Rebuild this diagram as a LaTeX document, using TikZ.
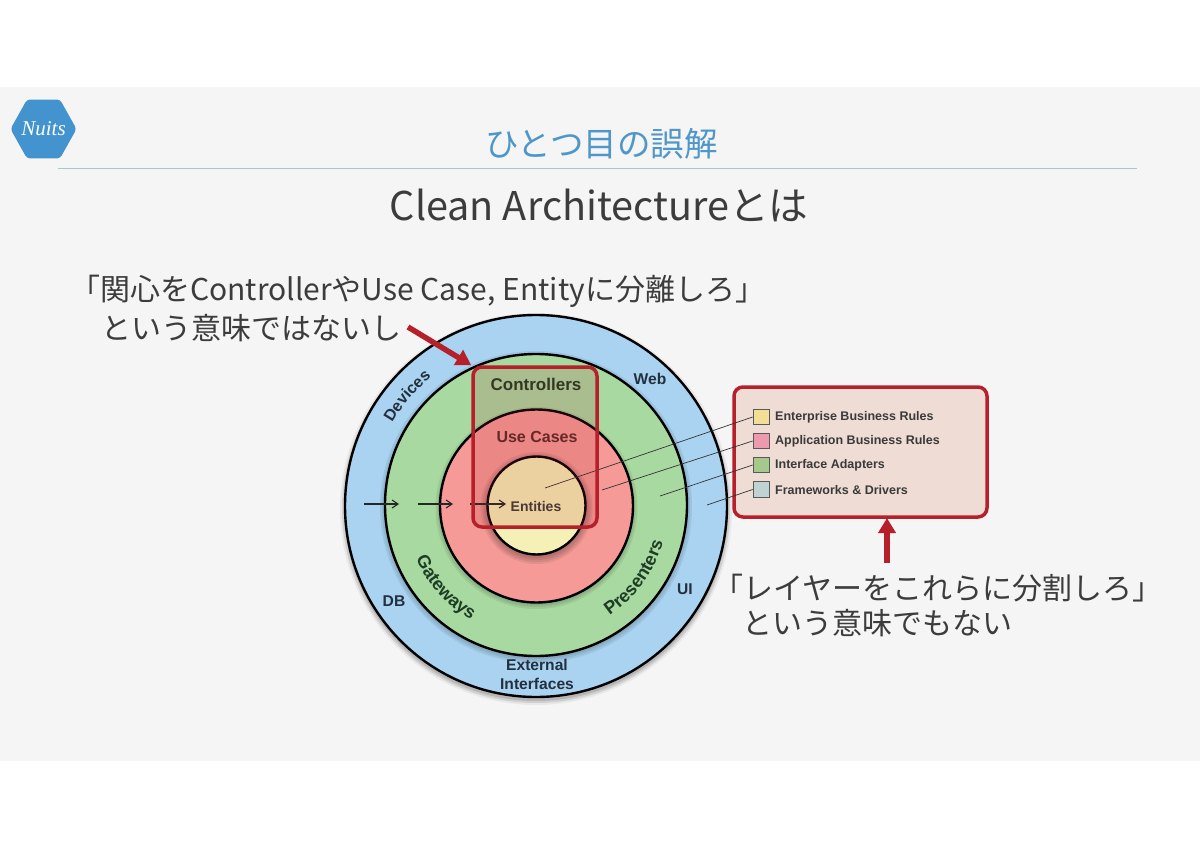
\documentclass[tikz,border=0pt]{standalone}
\usepackage{fontspec}
\setmainfont{Noto Sans CJK JP}
\newfontfamily\diagfont{Liberation Sans}
\newfontfamily\logofont{Liberation Serif}
\usetikzlibrary{arrows.meta,decorations.text,shapes.geometric}
\definecolor{slidebg}{HTML}{F5F5F5}
\definecolor{rulecol}{HTML}{A9C5CF}
\definecolor{titleblue}{HTML}{4F97C9}
\definecolor{bodygray}{HTML}{3C3C3C}
\definecolor{logoblue}{HTML}{4393CF}
\definecolor{ringblue}{HTML}{A9D3F0}
\definecolor{ringgreen}{HTML}{A8D9A0}
\definecolor{ringred}{HTML}{F59A96}
\definecolor{ringyellow}{HTML}{F5F0B5}
\definecolor{boxred}{HTML}{B5202A}
\definecolor{legendfill}{HTML}{EFDCD4}
\definecolor{inkblue}{HTML}{22303F}
\definecolor{inkgreen}{HTML}{1D3D24}
\definecolor{inkred}{HTML}{5A2A2A}
\definecolor{inkgray}{HTML}{3A3A3A}
\definecolor{swA}{HTML}{F3DE96}
\definecolor{swB}{HTML}{EE9AAE}
\definecolor{swC}{HTML}{A5C98A}
\definecolor{swD}{HTML}{BFD3D3}
\tikzset{
  px/.style={x=1pt,y=-1pt},
  ring/.style={circle,draw=black,line width=2.4pt,inner sep=0pt},
  slidetext/.style={inner sep=0pt,anchor=west,text=bodygray,font=\fontsize{30}{34}\selectfont},
  difflabel/.style={inner sep=0pt,font=\diagfont\bfseries\fontsize{15.6}{17}\selectfont},
  swatch/.style={draw=black!65,line width=.7pt,minimum width=16pt,minimum height=15.5pt,inner sep=0pt},
  legendtext/.style={inner sep=0pt,anchor=west,text=inkgray,font=\diagfont\bfseries\fontsize{12.5}{14}\selectfont},
  leader/.style={draw=black!80,line width=.7pt},
  flowarrow/.style={draw=black!85,line width=1.1pt,-{Straight Barb[length=6pt,width=8pt]}},
  redbox/.style={draw=boxred,line width=3.5pt,rounded corners=9pt,inner sep=0pt},
  redarrow/.style={draw=boxred,line width=5.5pt,-{Triangle[length=15pt,width=17pt]}},
  halo/.style={fill=black,fill opacity=.07,draw=none},
}
\begin{document}
\begin{tikzpicture}[px]
\useasboundingbox (0,0) rectangle (1200,848);
\fill[white] (0,0) rectangle (1200,848);
\fill[slidebg] (0,87) rectangle (1200,761);

% logo
\node[regular polygon,regular polygon sides=6,fill=logoblue,draw=logoblue,line width=1pt,rounded corners=3pt,
      minimum size=72pt,inner sep=0pt,xscale=.9,yscale=.93] (logo) at (43.5,129) {};
\node[inner sep=0pt,text=white,font=\logofont\itshape\fontsize{21}{21}\selectfont] (logotext) at (43.5,129) {Nuits};

% header
\node[inner sep=0pt,text=titleblue,font=\fontsize{33.5}{36}\selectfont] (title) at (601.5,143.5) {ひとつ目の誤解};
\coordinate (ruleL) at (58,168);
\coordinate (ruleR) at (1137,168);
\draw[rulecol,line width=.9pt] (ruleL) -- (ruleR);
\node[inner sep=0pt,text=bodygray,font=\fontsize{39.6}{42}\selectfont] (subtitle) at (599,205.5) {Clean Architectureとは};

% notes
\node[slidetext] (noteA1) at (70,291.5) {「関心をControllerやUse Case, Entityに分離しろ」};
\node[slidetext] (noteA2) at (101,328) {という意味ではないし};
\node[slidetext] (noteB1) at (713,588) {「レイヤーをこれらに分割しろ」};
\node[slidetext] (noteB2) at (742,623.5) {という意味でもない};

% shadows and rings
\foreach \r/\o in {196/.05,194/.1,192/.12}{\fill[black,fill opacity=\o] (536,509) circle (\r);}
\node[ring,fill=ringblue,minimum size=382pt] (outer) at (536,506) {};
\foreach \r in {156,154,152}{\path[halo] (536,507) circle (\r);}
\node[ring,fill=ringgreen,minimum size=302pt] (green) at (536,505) {};
\foreach \r in {101,99,97}{\path[halo] (536.5,508) circle (\r);}
\node[ring,fill=ringred,minimum size=193pt] (red) at (536.5,506) {};
\foreach \r in {56,54,52,50}{\path[halo] (536.5,508) circle (\r);}
\node[ring,fill=ringyellow,minimum size=98pt] (yellow) at (536.5,505.5) {};

% ring labels
\node[difflabel,text=inkblue] (web) at (650,379) {Web};
\node[difflabel,text=inkblue] (db) at (394,601) {DB};
\node[difflabel,text=inkblue] (ui) at (685,589) {UI};
\node[difflabel,text=inkblue] (ext1) at (537,665) {External};
\node[difflabel,text=inkblue] (ext2) at (537,684) {Interfaces};
\node[inner sep=0pt,text=inkgreen,font=\diagfont\bfseries\fontsize{17}{18}\selectfont] (controllers) at (536,384) {Controllers};
\node[inner sep=0pt,text=inkred,font=\diagfont\bfseries\fontsize{16}{18}\selectfont] (usecases) at (537,437) {Use Cases};
\node[inner sep=0pt,text=inkgray,font=\diagfont\bfseries\fontsize{14}{15}\selectfont] (entities) at (536,506) {Entities};
\path[postaction={decorate,decoration={text along path,text align=center,
   text={|\diagfont\bfseries\fontsize{16}{17}\selectfont\color{inkblue}|Devices}}}]
   (536,506) ++(206:166) arc[start angle=206,end angle=235,radius=166];
\path[postaction={decorate,decoration={text along path,text align=center,
   text={|\diagfont\bfseries\fontsize{18}{19}\selectfont\color{inkgreen}|Gateways}}}]
   (536,506) ++(159:131) arc[start angle=159,end angle=117,radius=131];
\path[postaction={decorate,decoration={text along path,text align=center,
   text={|\diagfont\bfseries\fontsize{18}{19}\selectfont\color{inkgreen}|Presenters}}}]
   (536,506) ++(64:132) arc[start angle=64,end angle=8,radius=132];

% flow arrows
\coordinate (f1a) at (364,504); \coordinate (f1b) at (399,504);
\coordinate (f2a) at (418,504); \coordinate (f2b) at (453,504);
\coordinate (f3a) at (470,504); \coordinate (f3b) at (506,504);
\draw[flowarrow] (f1a) -- (f1b);
\draw[flowarrow] (f2a) -- (f2b);
\draw[flowarrow] (f3a) -- (f3b);

% legend
\node[redbox,fill=legendfill,minimum width=253pt,minimum height=130pt] (legend) at (860.5,452) {};
\node[swatch,fill=swA] (s1) at (761,417) {};
\node[swatch,fill=swB] (s2) at (761,441) {};
\node[swatch,fill=swC] (s3) at (761,465) {};
\node[swatch,fill=swD] (s4) at (761,489.5) {};
\node[legendtext] (t1) at (775,417.5) {Enterprise Business Rules};
\node[legendtext] (t2) at (775,441.5) {Application Business Rules};
\node[legendtext] (t3) at (775,465.5) {Interface Adapters};
\node[legendtext] (t4) at (775,490) {Frameworks \& Drivers};
\coordinate (l1) at (545,488);
\coordinate (l2) at (602,490);
\coordinate (l3) at (660,496);
\coordinate (l4) at (707,505);
\draw[leader] (l1) -- (s1.west);
\draw[leader] (l2) -- (s2.west);
\draw[leader] (l3) -- (s3.west);
\draw[leader] (l4) -- (s4.west);

% highlight box
\node[redbox,fill=boxred,fill opacity=.15,minimum width=124pt,minimum height=160pt] (ctrlbox) at (535,447) {};

% red arrows
\coordinate (ra1s) at (408,327);
\coordinate (ra2s) at (887,563);
\coordinate (ra2t) at (887,518);
\draw[redarrow] (ra1s) -- (ctrlbox.north west);
\draw[redarrow] (ra2s) -- (ra2t);
\end{tikzpicture}
\end{document}
